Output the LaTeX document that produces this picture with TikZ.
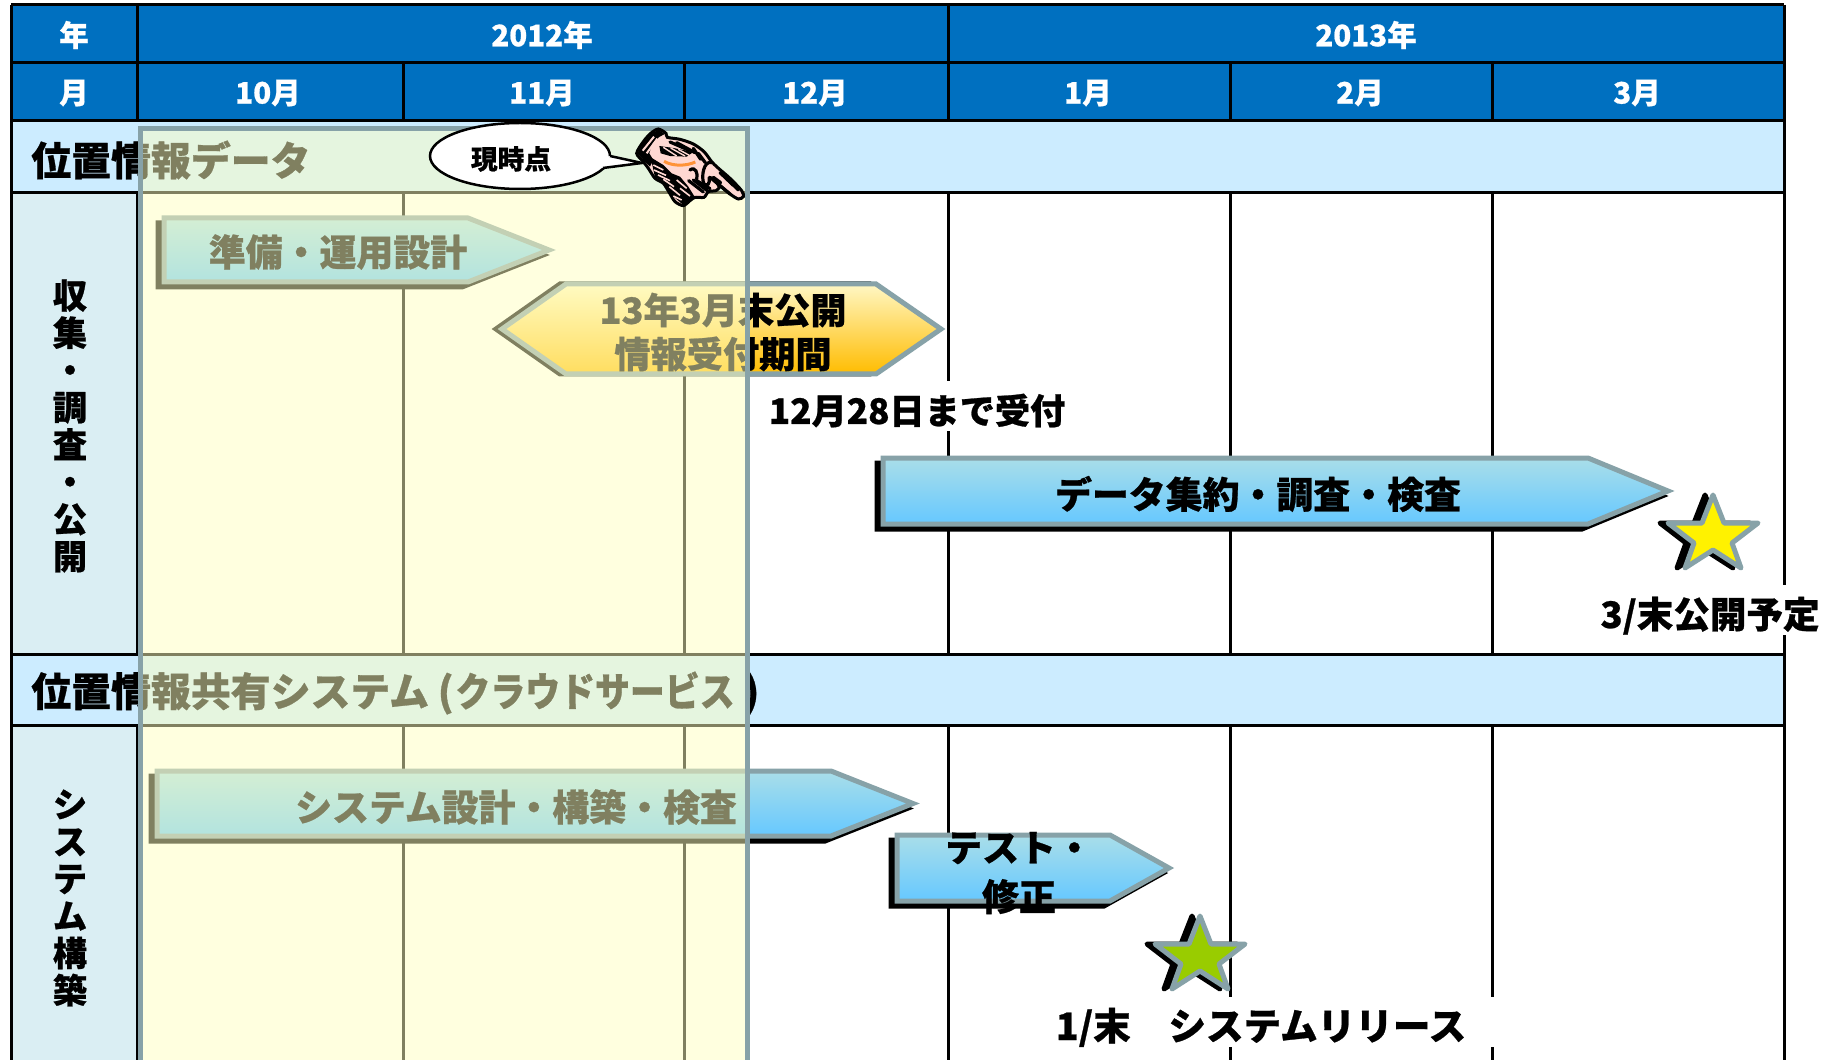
\documentclass[tikz,border=0pt]{standalone}
\usepackage{fontspec}
\setmainfont{Noto Sans CJK JP}[BoldFeatures={FakeBold=0.7}]
\usetikzlibrary{shapes.geometric}
\definecolor{headblue}{HTML}{0070C0}
\definecolor{sectblue}{HTML}{CCECFF}
\definecolor{sidepale}{HTML}{DAEEF3}
\definecolor{barline}{HTML}{87A2A8}
\definecolor{nowtint}{HTML}{FFFFC0}
\definecolor{handpink}{HTML}{FFD8D2}
\definecolor{starleaf}{HTML}{99CC00}
\definecolor{barskytop}{HTML}{A9DEE9}
\definecolor{barskybot}{HTML}{66C8FF}
\definecolor{bargoldtop}{HTML}{FFF7C4}
\definecolor{bargoldbot}{HTML}{FFBC00}
\newcommand{\px}{0.02cm}
%pentagon bar: style, left, end of body, tip, top, bottom
\newcommand{\ganttbar}[6]{%
  \path[barshadow,shift={(-6,5)}] (#2,#5) -- (#3,#5) -- (#4,{(#5+#6)/2}) -- (#3,#6) -- (#2,#6) -- cycle;
  \path[#1] (#2,#5) -- (#3,#5) -- (#4,{(#5+#6)/2}) -- (#3,#6) -- (#2,#6) -- cycle;
}
%star, top point at #2,#3
\newcommand{\milestone}[3]{%
  \path[barshadow,line join=round,shift={(#2-8,#3)}] (0,0) -- (11,28) -- (45,28) -- (19,48) -- (28,73) -- (0,55) -- (-28,73) -- (-19,48) -- (-45,28) -- (-11,28) -- cycle;
  \path[draw=barline,line width=5*\px,line join=round,fill=#1,shift={(#2,#3)}] (0,0) -- (11,28) -- (45,28) -- (19,48) -- (28,73) -- (0,55) -- (-28,73) -- (-19,48) -- (-45,28) -- (-11,28) -- cycle;
}
\tikzset{
  gridline/.style={black,line width=3*\px},
  headtext/.style={white,font=\fontsize{16.8}{20}\selectfont\bfseries,inner sep=0pt},
  secttext/.style={black,font=\fontsize{22.7}{27}\selectfont\bfseries,inner sep=0pt,anchor=west},
  sidetext/.style={black,font=\fontsize{19.5}{21.2}\selectfont\bfseries,inner sep=0pt,align=center},
  bartext/.style={black,font=\fontsize{21}{25}\selectfont\bfseries,inner sep=0pt,align=center},
  notetext/.style={black,fill=white,font=\fontsize{20}{25}\selectfont\bfseries,inner xsep=0pt,inner ysep=0pt,text height=0.86cm,text depth=0.14cm},
  barshadow/.style={draw=black,fill=black,line width=5*\px},
  bluebar/.style={draw=barline,line width=5*\px,top color=barskytop,bottom color=barskybot},
  goldbar/.style={draw=barline,line width=5*\px,top color=bargoldtop,bottom color=bargoldbot},
  handink/.style={black,line width=3.2*\px,line cap=round}
}
\begin{document}
\begin{tikzpicture}[x=0.02cm,y=-0.02cm]
\useasboundingbox (0,0) rectangle (1831,1060);
%fills of the table
\fill[white] (0,0) rectangle (1831,1060);
\fill[headblue] (11,5) rectangle (1784,121);
\fill[sectblue] (11,121) rectangle (1784,193);
\fill[sectblue] (11,654) rectangle (1784,725);
\fill[sidepale] (11,193) rectangle (137,654);
\fill[sidepale] (11,725) rectangle (137,1070);

%lines of the table
\draw[gridline] (11,5) -- (1784,5);
\draw[gridline] (11,63) -- (1784,63);
\draw[gridline] (11,121) -- (1784,121);
\draw[gridline] (11,193) -- (1784,193);
\draw[gridline] (11,654) -- (1784,654);
\draw[gridline] (11,725) -- (1784,725);
\draw[gridline] (11,5) -- (11,1070);
\draw[gridline] (1784,5) -- (1784,1070);
\draw[gridline] (137,5) -- (137,121);
\draw[gridline] (948,5) -- (948,121);
\foreach \colx in {403,684,1230,1492} \draw[gridline] (\colx,63) -- (\colx,121);
\foreach \colx in {137,403,684,948,1230,1492} {
  \draw[gridline] (\colx,193) -- (\colx,654);
  \draw[gridline] (\colx,725) -- (\colx,1070);
}

%header
\node[headtext] (yearhead) at (74,35) {年};
\node[headtext] (year12) at (542,35) {2012年};
\node[headtext] (year13) at (1366,35) {2013年};
\node[headtext] (monthhead) at (74,93) {月};
\node[headtext] (oct) at (268,93) {10月};
\node[headtext] (nov) at (542,93) {11月};
\node[headtext] (dec) at (815,93) {12月};
\node[headtext] (jan) at (1088,93) {1月};
\node[headtext] (feb) at (1360,93) {2月};
\node[headtext] (mar) at (1637,93) {3月};

%sections
\node[secttext] (datasect) at (31,160) {位置情報データ};
\node[secttext] (cloudsect) at (31,693) {位置情報共有システム\hspace{5pt}(\hspace{1pt}{\addfontfeatures{FakeStretch=.875}クラウドサービス}\hspace{5pt})};
\node[sidetext] (surveyside) at (70,426) {収\\集\\・\\調\\査\\・\\公\\開};
\node[sidetext] (systemside) at (70,898) {シ\\ス\\テ\\ム\\構\\築};

%notes with white ground
\node[notetext] (closenote) at (917,406) {12月28日まで受付};
\node[notetext,font=\fontsize{20.8}{25}\selectfont\bfseries] (opennote) at (1710,610) {3/末公開予定};
\node[notetext,font=\fontsize{21.4}{25}\selectfont\bfseries,minimum width=478*\px] (releasenote) at (1261,1022) {1/末　システムリリース};

%bars
\ganttbar{bluebar}{164}{468}{549}{218}{282}
\node[bartext] (prepbar) at (338,252) {準備・運用設計};
\path[barshadow,shift={(-6,0)}] (502,329) -- (566,284) -- (876,284) -- (941,329) -- (876,374) -- (566,374) -- cycle;
\path[goldbar] (502,329) -- (566,284) -- (876,284) -- (941,329) -- (876,374) -- (566,374) -- cycle;
\node[bartext,font=\fontsize{20.6}{25}\selectfont\bfseries] (intakebar) at (723,332) {13年3月末公開\\情報受付期間};
\ganttbar{bluebar}{883}{1588}{1668}{458}{524}
\node[bartext] (databar) at (1258,494) {データ集約・調査・検査};
\ganttbar{bluebar}{157}{831}{913}{771}{836}
\node[bartext] (systembar) at (516,807) {システム設計・構築・検査};
\ganttbar{bluebar}{897}{1110}{1169}{835}{901}
\node[bartext] (testbar) at (1019,873) {テスト・\\[3pt]修正};

%stars
\milestone{yellow}{1713}{495}
\milestone{starleaf}{1200}{916}

%what is already past
\path[draw=barline,line width=5*\px,fill=nowtint,fill opacity=.5,draw opacity=1] (140.5,1075) -- (140.5,128.5) -- (747.5,128.5) -- (747.5,1075);

%callout
\node[ellipse,draw=black,fill=white,line width=2.5*\px,minimum width=180*\px,minimum height=66*\px,inner sep=0pt] (nowcallout) at (520,156) {};
\coordinate (tailtip) at (642,163);
\coordinate (tailup) at (610,156);
\coordinate (taildown) at (603,168);
\fill[white] (tailup) -- (tailtip) -- (taildown) -- (590,160) -- cycle;
\draw[black,line width=2.5*\px] (tailup) -- (tailtip) -- (taildown);
\node[black,inner sep=0pt,font=\fontsize{15.2}{18}\selectfont\bfseries] (nowlabel) at (511,159) {現時点};

%hand
\begin{scope}[shift={(630,120)},x=0.02cm/3,y=-0.02cm/3]
\draw[black,line width=3*\px,fill=handpink] plot[smooth cycle,tension=.45] coordinates {(20,100) (40,65) (62,40) (85,27) (108,40) (112,52) (150,58) (190,72) (222,95) (245,125) (262,142) (300,175) (335,212) (340,230) (325,237) (300,222) (264,192) (268,202) (258,212) (235,215) (222,232) (195,232) (180,242) (160,257) (135,245) (118,218) (100,190) (75,175) (55,145) (40,125)};
%cuff and dark side of the wrist
\fill[black] (22,100) -- (42,66) -- (64,42) -- (85,29) -- (104,42) -- (86,52) -- (66,72) -- (58,100) -- (70,120) -- (60,140) -- (42,122) -- cycle;
\draw[handpink,line width=2*\px] (38,92) -- (72,50);
\draw[handpink,line width=2*\px] (50,100) -- (82,56);
\fill[black] (62,112) -- (100,135) -- (125,160) -- (150,170) -- (175,200) -- (195,232) -- (160,255) -- (125,225) -- (100,185) -- (75,172) -- cycle;
\foreach \ha/\hb/\hc/\hd in {70/135/100/150, 72/150/108/166, 84/165/120/182, 100/178/132/200, 118/200/150/226, 130/228/155/240, 140/180/170/205, 150/205/180/228} \draw[handpink,line width=1.6*\px] (\ha,\hb) -- (\hc,\hd);
%hatching on the back
\fill[black] (88,78) -- (130,84) -- (190,96) -- (170,110) -- (120,108) -- (92,100) -- cycle;
\foreach \ha/\hb/\hc/\hd in {100/82/140/108, 122/84/165/108, 145/88/178/106} \draw[handpink,line width=1.4*\px] (\ha,\hb) -- (\hc,\hd);
\foreach \ha/\hb/\hc/\hd in {120/66/175/90, 140/68/195/98, 190/85/212/118, 205/100/226/128} \draw[handink] (\ha,\hb) -- (\hc,\hd);
\draw[draw=orange!70!pink,line width=3*\px] (102,124) .. controls (130,140) and (170,138) .. (196,126);
%fingers
\draw[handink] (180,150) .. controls (196,138) and (205,160) .. (200,178);
\draw[handink] (222,192) .. controls (212,170) and (222,120) .. (245,128);
\draw[handink] (222,192) .. controls (232,200) and (240,192) .. (238,172);
\draw[handink] (240,172) -- (300,222);
\draw[handink] (250,172) -- (272,188);
\foreach \ha/\hb/\hc/\hd in {176/182/220/216, 190/180/232/212, 200/182/240/206, 270/158/310/196, 285/170/325/210} \draw[handink] (\ha,\hb) -- (\hc,\hd);
\end{scope}
\end{tikzpicture}
\end{document}
